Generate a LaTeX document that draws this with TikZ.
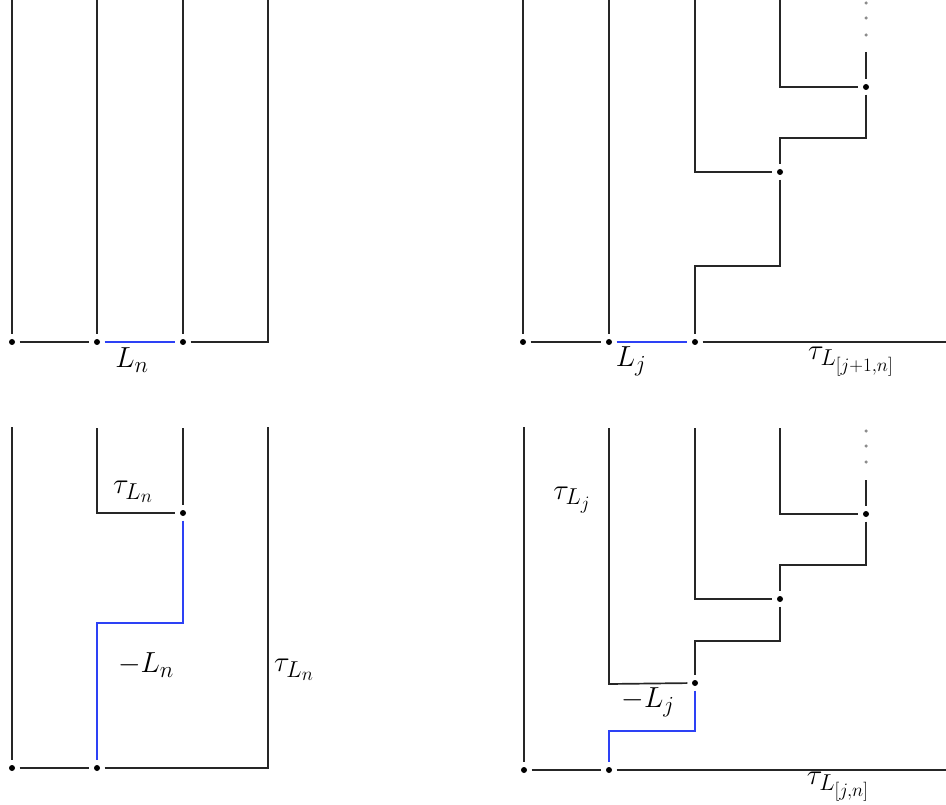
\RequirePackage{fix-cm}
\documentclass[tikz,border=0pt]{standalone}
\DeclareMathSizes{29}{29}{23}{19}
\definecolor{pathblue}{RGB}{45,65,245}
\begin{document}
\begin{tikzpicture}[x=1pt,y=-1pt,
  ln/.style={line width=1.7pt,black!85},
  bl/.style={line width=1.7pt,pathblue},
  gp/.style={shorten <=4.5pt,shorten >=4.5pt},
  gpe/.style={shorten >=4.5pt},
  gps/.style={shorten <=4.5pt},
  pt/.style={circle,fill=black,inner sep=0pt,minimum size=6pt},
  gdot/.style={circle,fill=black!45,inner sep=0pt,minimum size=3.5pt},
  lab/.style={font=\fontsize{29}{34}\selectfont,inner sep=0pt}]
\useasboundingbox (0,0) rectangle (946,805);
% ---------- top left ----------
\node[pt] (a1) at (12,342) {};
\node[pt] (a2) at (97,342) {};
\node[pt] (a3) at (183,342) {};
\coordinate (ta1) at (12,0);
\coordinate (ta2) at (97,0);
\coordinate (ta3) at (183,0);
\coordinate (ta4) at (268,0);
\coordinate (ca4) at (268,342);
\draw[ln,gpe] (ta1) -- (a1);
\draw[ln,gpe] (ta2) -- (a2);
\draw[ln,gpe] (ta3) -- (a3);
\draw[ln,gp] (a1) -- (a2);
\draw[bl,gp] (a2) -- (a3);
\draw[ln,gps] (a3) -- (ca4) -- (ta4);
\node[lab] (lLn) at (132,360) {$L_n$};
% ---------- top right ----------
\node[pt] (b1) at (523,342) {};
\node[pt] (b2) at (609,342) {};
\node[pt] (b3) at (695,342) {};
\node[pt] (b4) at (780,172) {};
\node[pt] (b5) at (866,87) {};
\coordinate (tb1) at (523,0);
\coordinate (tb2) at (609,0);
\coordinate (tb3) at (695,0);
\coordinate (tb4) at (780,0);
\coordinate (cb3) at (695,172);
\coordinate (cb4) at (780,87);
\coordinate (rb) at (946,342);
\coordinate (sb1) at (780,266);
\coordinate (sb2) at (695,266);
\coordinate (sb3) at (866,138);
\coordinate (sb4) at (780,138);
\coordinate (ub5) at (866,52);
\draw[ln,gpe] (tb1) -- (b1);
\draw[ln,gpe] (tb2) -- (b2);
\draw[ln,gp] (b1) -- (b2);
\draw[bl,gp] (b2) -- (b3);
\draw[ln,gps] (b3) -- (rb);
\draw[ln,gpe] (tb3) -- (cb3) -- (b4);
\draw[ln,gp] (b4) -- (sb1) -- (sb2) -- (b3);
\draw[ln,gpe] (tb4) -- (cb4) -- (b5);
\draw[ln,gp] (b5) -- (sb3) -- (sb4) -- (b4);
\draw[ln,gpe] (ub5) -- (b5);
\node[gdot] (vb1) at (866,3) {};
\node[gdot] (vb2) at (866,18) {};
\node[gdot] (vb3) at (866,35) {};
\node[lab] (lLj) at (631,361) {$L_j$};
\node[lab] (ltj1) at (851,362) {$\tau_{L_{[j+1,n]}}$};
% ---------- bottom left ----------
\node[pt] (d1) at (12,768) {};
\node[pt] (d2) at (97,768) {};
\node[pt] (d3) at (183,513) {};
\coordinate (td1) at (12,427);
\coordinate (td2) at (97,428);
\coordinate (td3) at (183,428);
\coordinate (td4) at (268,427);
\coordinate (cd2) at (97,513);
\coordinate (cd4) at (268,768);
\coordinate (sd1) at (183,623);
\coordinate (sd2) at (97,623);
\draw[ln,gpe] (td1) -- (d1);
\draw[ln,gpe] (td2) -- (cd2) -- (d3);
\draw[ln,gpe] (td3) -- (d3);
\draw[bl,gp] (d3) -- (sd1) -- (sd2) -- (d2);
\draw[ln,gp] (d1) -- (d2);
\draw[ln,gps] (d2) -- (cd4) -- (td4);
\node[lab] (ltLn1) at (133,492) {$\tau_{L_n}$};
\node[lab] (lmLn) at (146,665) {$-L_n$};
\node[lab] (ltLn2) at (294,670) {$\tau_{L_n}$};
% ---------- bottom right ----------
\node[pt] (e1) at (524,770) {};
\node[pt] (e2) at (609,770) {};
\node[pt] (e3) at (695,683) {};
\node[pt] (e4) at (780,599) {};
\node[pt] (e5) at (866,514) {};
\coordinate (te1) at (524,427);
\coordinate (te2) at (609,428);
\coordinate (te3) at (695,428);
\coordinate (te4) at (780,428);
\coordinate (ce2) at (609,684);
\coordinate (ce3) at (695,599);
\coordinate (ce4) at (780,514);
\coordinate (ue5) at (866,480);
\coordinate (se1) at (866,565);
\coordinate (se2) at (780,565);
\coordinate (se3) at (780,641);
\coordinate (se4) at (695,641);
\coordinate (se5) at (695,731);
\coordinate (se6) at (609,731);
\coordinate (re) at (946,770);
\draw[ln,gpe] (te1) -- (e1);
\draw[ln,gpe] (te2) -- (ce2) -- (e3);
\draw[ln,gpe] (te3) -- (ce3) -- (e4);
\draw[ln,gpe] (te4) -- (ce4) -- (e5);
\draw[ln,gpe] (ue5) -- (e5);
\draw[ln,gp] (e5) -- (se1) -- (se2) -- (e4);
\draw[ln,gp] (e4) -- (se3) -- (se4) -- (e3);
\draw[bl,gp] (e3) -- (se5) -- (se6) -- (e2);
\draw[ln,gp] (e1) -- (e2);
\draw[ln,gps] (e2) -- (re);
\node[gdot] (ve1) at (866,431) {};
\node[gdot] (ve2) at (866,446) {};
\node[gdot] (ve3) at (866,462) {};
\node[lab] (ltLj) at (572,500) {$\tau_{L_j}$};
\node[lab] (lmLj) at (648,702) {$-L_j$};
\node[lab] (ltjn) at (838,787) {$\tau_{L_{[j,n]}}$};
\end{tikzpicture}
\end{document}
